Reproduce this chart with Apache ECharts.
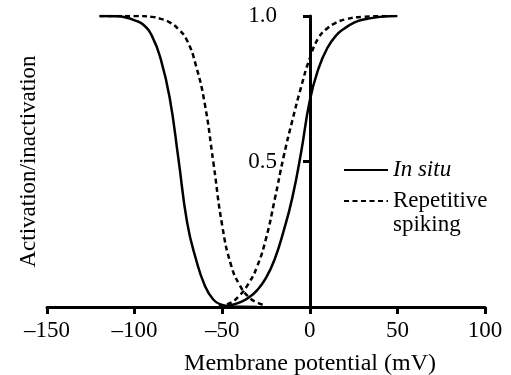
<!DOCTYPE html>
<html>
<head>
<meta charset="utf-8">
<script src="https://cdn.jsdelivr.net/npm/echarts@6/dist/echarts.min.js"></script>
<style>html,body{margin:0;padding:0;background:#fff}#c{width:511px;height:375px}</style>
</head>
<body>
<div id="c"></div>
<script>
// X ticks
const xTicks = [-150, -100, -50, 0, 50, 100];
const yTicks = [0, 0.5, 1.0];

// In situ inactivation (solid)
const inSituInactV = [-120, -110, -105, -100, -95, -90, -85, -80, -75, -70, -65, -60, -55, -50, -45, -40, -30];
const inSituInactY = [1.0, 0.999, 0.995, 0.985, 0.97, 0.93, 0.85, 0.72, 0.51, 0.29, 0.165, 0.075, 0.025, 0.007, 0.002, 0.001, 0];

// In situ activation (solid)
const inSituActV = [-50, -45, -40, -35, -30, -25, -20, -15, -10, -5, 0, 5, 10, 15, 20, 25, 30, 40, 50];
const inSituActY = [0.001, 0.006, 0.016, 0.032, 0.058, 0.1, 0.165, 0.26, 0.375, 0.53, 0.71, 0.82, 0.89, 0.933, 0.958, 0.976, 0.987, 0.997, 1.0];

// Repetitive spiking inactivation (dashed)
const repInactV = [-120, -100, -90, -85, -80, -75, -70, -65, -60, -55, -50, -45, -40, -35, -30, -25];
const repInactY = [1.0, 1.0, 0.997, 0.99, 0.978, 0.955, 0.915, 0.83, 0.70, 0.495, 0.28, 0.145, 0.075, 0.035, 0.015, 0.005];

// Repetitive spiking activation (dashed)
const repActV = [-52, -50, -45, -40, -35, -30, -25, -20, -15, -10, -5, 0, 5, 10, 15, 20, 30, 45];
const repActY = [0.002, 0.004, 0.015, 0.04, 0.08, 0.14, 0.235, 0.37, 0.515, 0.64, 0.755, 0.855, 0.925, 0.958, 0.977, 0.988, 0.997, 1.0];

const zip = (a, b) => a.map((v, i) => [v, b[i]]);
const FONT = 'Liberation Serif';

const chart = echarts.init(document.getElementById('c'), null, {renderer: 'canvas'});
const solid = {color: '#000', width: 2.5, type: 'solid'};
const dashed = {color: '#000', width: 2.5, type: [5, 3.5]};
const mk = (name, data, ls) => ({
  name, type: 'line', data, showSymbol: false, symbol: 'none',
  smooth: 0.5, lineStyle: ls, itemStyle: {color: '#000'},
  emphasis: {disabled: true}
});

chart.setOption({
  animation: false,
  backgroundColor: '#fff',
  grid: {left: 47, right: 26, top: 16, bottom: 68, containLabel: false, outerBoundsMode: 'none'},
  legend: {
    orient: 'vertical', left: 338, top: 153,
    itemWidth: 44, itemHeight: 14, itemGap: -17,
    itemStyle: {opacity: 0},
    textStyle: {fontFamily: FONT, fontSize: 23, color: '#000', lineHeight: 24},
    formatter: name => name === 'Repetitive spiking' ? '\nRepetitive\nspiking' : name,
    data: [
      {name: 'In situ', textStyle: {fontStyle: 'italic'}},
      {name: 'Repetitive spiking'}
    ],
    selectedMode: false
  },
  xAxis: {
    type: 'value', min: -150, max: 100, interval: 50,
    name: 'Membrane potential (mV)', nameLocation: 'middle', nameGap: 45,
    nameTextStyle: {fontFamily: FONT, fontSize: 24, color: '#000', padding: [0, 0, 0, 88]},
    axisLine: {onZero: false, lineStyle: {color: '#000', width: 3}},
    axisTick: {show: true, length: 7, lineStyle: {color: '#000', width: 3}},
    axisLabel: {fontFamily: FONT, fontSize: 23, color: '#000', margin: 12,
      formatter: v => xTicks.includes(v) ? (v < 0 ? '\u2013' + Math.abs(v) : String(v)) : ''},
    splitLine: {show: false}
  },
  yAxis: {
    type: 'value', min: 0, max: 1, interval: 0.5,
    position: 'left', offset: -263,
    name: 'Activation/inactivation', nameLocation: 'middle', nameGap: 270, nameRotate: 90,
    nameTextStyle: {fontFamily: FONT, fontSize: 23, color: '#000'},
    axisLine: {onZero: false, lineStyle: {color: '#000', width: 3}},
    axisTick: {show: true, length: 7, lineStyle: {color: '#000', width: 3}},
    axisLabel: {fontFamily: FONT, fontSize: 23, color: '#000', margin: 33, padding: [6, 0, 0, 0],
      formatter: v => (v === 0 ? '' : yTicks.includes(v) ? v.toFixed(1) : '')},
    splitLine: {show: false}
  },
  series: [
    mk('In situ', zip(inSituInactV, inSituInactY), solid),
    mk('In situ', zip(inSituActV, inSituActY), solid),
    mk('Repetitive spiking', zip(repInactV, repInactY), dashed),
    mk('Repetitive spiking', zip(repActV, repActY), dashed)
  ]
});
</script>
</body>
</html>
